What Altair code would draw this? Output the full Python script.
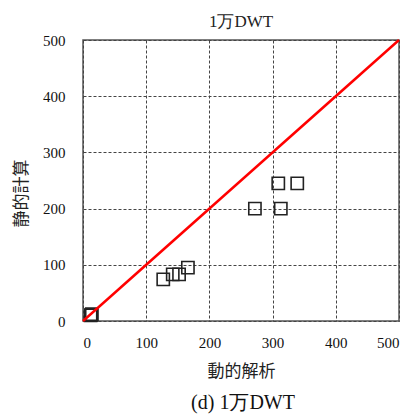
import altair as alt
import pandas as pd

dyn = [272, 313, 309, 339, 127, 142, 152, 166, 12, 13, 14]
sta = [200, 200, 245, 245, 74, 83, 83, 95, 10, 11, 12]
line_x = [0, 500]
line_y = [0, 500]
ticks = [0, 100, 200, 300, 400, 500]

pts = pd.DataFrame({"dyn": dyn, "sta": sta})
ln = pd.DataFrame({"dyn": line_x, "sta": line_y})

xs = alt.Scale(domain=[0, 500], nice=False, zero=False)
ys = alt.Scale(domain=[0, 500], nice=False, zero=False)

xax = alt.Axis(values=ticks, title="動的解析", titleFont="Noto Sans CJK JP",
               titleFontSize=17, titleFontWeight="normal", titleColor="#222",
               titlePadding=13, labelFont="Liberation Serif", labelFontSize=15,
               labelColor="#111", labelPadding=14, ticks=False, domain=False,
               grid=True, gridColor="#444", gridDash=[3, 2], gridWidth=1)
yax = alt.Axis(values=ticks, title="静的計算", titleFont="Noto Sans CJK JP",
               titleFontSize=17, titleFontWeight="normal", titleColor="#222",
               titlePadding=12, titleY=153, labelFont="Liberation Serif",
               labelFontSize=15, labelColor="#111", labelPadding=18,
               ticks=False, domain=False,
               grid=True, gridColor="#444", gridDash=[3, 2], gridWidth=1)

base_pts = alt.Chart(pts).mark_point(shape="square", size=150, filled=False,
                                     color="#222", strokeWidth=1.6, opacity=1).encode(
    x=alt.X("dyn:Q", scale=xs, axis=xax),
    y=alt.Y("sta:Q", scale=ys, axis=yax),
)

red = alt.Chart(ln).mark_line(color="#ff0000", strokeWidth=2.5).encode(
    x=alt.X("dyn:Q", scale=xs),
    y=alt.Y("sta:Q", scale=ys),
)

cap = alt.Chart(pd.DataFrame({"t": ["(d) 1万DWT"]})).mark_text(
    font="Liberation Serif", fontSize=20, color="#111", baseline="middle",
    align="center").encode(
    text="t:N", x=alt.value(160), y=alt.value(363))

chart = alt.layer(base_pts, red, cap).properties(
    width=316, height=281,
    title=alt.TitleParams("1万DWT", font="Liberation Serif", fontSize=17,
                          fontWeight="normal", color="#222", anchor="middle",
                          offset=2),
    autosize=alt.AutoSizeParams(type="none"),
    padding={"left": 75, "top": 32, "right": 8, "bottom": 97},
).configure_view(stroke="#555", strokeWidth=1.5)

chart.save("out.html", embed_options={"renderer": "svg", "actions": False})
